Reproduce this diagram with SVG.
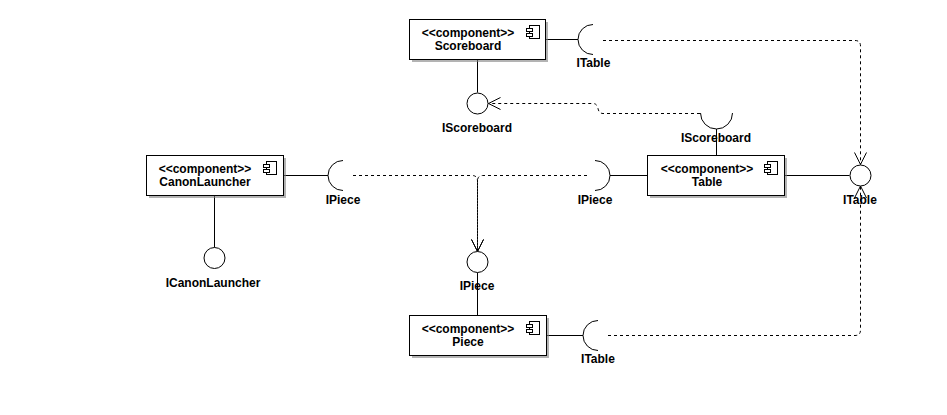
<svg xmlns="http://www.w3.org/2000/svg" width="947" height="415" viewBox="0 0 947 415">
<style>
  text { font-family: "Liberation Sans", Arial, sans-serif; font-weight: bold; font-size: 12px; fill: #000; text-anchor: middle; }
  .box { fill: #fff; stroke: #000; stroke-width: 1; }
  .shadow { fill: #808080; fill-opacity: 0.6; stroke: none; }
  .ln { fill: none; stroke: #000; stroke-width: 1; }
  .dash { fill: none; stroke: #000; stroke-width: 1; stroke-dasharray: 3 3; }
  .icon { fill: #fff; stroke: #000; stroke-width: 1; }
  .iface { fill: #fff; stroke: #000; stroke-width: 1; }
</style>
<defs>
  <marker id="open" markerUnits="userSpaceOnUse" markerWidth="14" markerHeight="14" refX="12" refY="6" orient="auto" overflow="visible">
    <path d="M0,0 L12,6 L0,12" fill="none" stroke="#000" stroke-width="1"/>
  </marker>
  <g id="cicon">
    <rect class="icon" x="3" y="0" width="10" height="13"/>
    <rect class="icon" x="0" y="3" width="6" height="3"/>
    <rect class="icon" x="0" y="8" width="6" height="3"/>
  </g>
</defs>
<rect width="947" height="415" fill="#fff"/>

<g id="connectors">
  <line class="ln" x1="545" y1="39.5" x2="578" y2="39.5"/>
  <line class="ln" x1="477.5" y1="59" x2="477.5" y2="92.5"/>
  <line class="ln" x1="716.5" y1="129" x2="716.5" y2="155"/>
  <line class="ln" x1="784" y1="175.5" x2="849.5" y2="175.5"/>
  <line class="ln" x1="283" y1="175.5" x2="328" y2="175.5"/>
  <line class="ln" x1="214.5" y1="195" x2="214.5" y2="247.5"/>
  <line class="ln" x1="610" y1="175.5" x2="647" y2="175.5"/>
  <line class="ln" x1="477.5" y1="272.5" x2="477.5" y2="315"/>
  <line class="ln" x1="546" y1="335.5" x2="583" y2="335.5"/>

  <path class="dash" d="M603,40.5 L855,40.5 Q860.5,40.5 860.5,46 L860.5,164.5" marker-end="url(#open)"/>
  <path class="dash" d="M608,335.5 L855,335.5 Q860.5,335.5 860.5,330 L860.5,186" marker-end="url(#open)"/>
  <path class="dash" d="M700,113.5 L603,113.5 Q599,113.5 598,108.5 Q597,103.5 593,103.5 L488.5,103.5" marker-end="url(#open)"/>
  <path class="dash" d="M353,175.5 L472,175.5 Q477.5,175.5 477.5,181 L477.5,251.5" marker-end="url(#open)"/>
  <path class="dash" d="M587,175.5 L483,175.5 Q477.5,175.5 477.5,181 L477.5,251.5" marker-end="url(#open)"/>
</g>

<g id="scoreboard">
  <rect class="shadow" x="412" y="22" width="136" height="40"/>
  <rect class="box" x="409.5" y="19.5" width="136" height="40"/>
  <use href="#cicon" x="526.5" y="25.5"/>
  <text x="468" y="37">&lt;&lt;component&gt;&gt;</text>
  <text x="468" y="50">Scoreboard</text>
</g>

<g id="canonlauncher">
  <rect class="shadow" x="149" y="158" width="137" height="40"/>
  <rect class="box" x="146.5" y="155.5" width="137" height="40"/>
  <use href="#cicon" x="263.5" y="161.5"/>
  <text x="205" y="173">&lt;&lt;component&gt;&gt;</text>
  <text x="205" y="186">CanonLauncher</text>
</g>

<g id="table">
  <rect class="shadow" x="650" y="158" width="137" height="40"/>
  <rect class="box" x="647.5" y="155.5" width="137" height="40"/>
  <use href="#cicon" x="764.5" y="161.5"/>
  <text x="707" y="173">&lt;&lt;component&gt;&gt;</text>
  <text x="707" y="186">Table</text>
</g>

<g id="piece">
  <rect class="shadow" x="412" y="318" width="137" height="40"/>
  <rect class="box" x="409.5" y="315.5" width="137" height="40"/>
  <use href="#cicon" x="526.5" y="321.5"/>
  <text x="468" y="333">&lt;&lt;component&gt;&gt;</text>
  <text x="468" y="346">Piece</text>
</g>

<g id="itable-req-scoreboard">
  <path class="ln" d="M593,24.5 A15,15 0 0,0 593,54.5"/>
  <text x="593.5" y="67">ITable</text>
</g>

<g id="iscoreboard-prov">
  <circle class="iface" cx="477.5" cy="103.5" r="10.5"/>
  <text x="477" y="132">IScoreboard</text>
</g>

<g id="iscoreboard-req-table">
  <path class="ln" d="M700.5,113 A16,16 0 0,0 732.5,113"/>
  <text x="716" y="142">IScoreboard</text>
</g>

<g id="itable-prov">
  <circle class="iface" cx="860.5" cy="175.5" r="10.5"/>
  <text x="860" y="204">ITable</text>
</g>

<g id="ipiece-req-canon">
  <path class="ln" d="M343,160.5 A15,15 0 0,0 343,190.5"/>
  <text x="343" y="204">IPiece</text>
</g>

<g id="ipiece-req-table">
  <path class="ln" d="M595,160.5 A15,15 0 0,1 595,190.5"/>
  <text x="595" y="204">IPiece</text>
</g>

<g id="icanonlauncher-prov">
  <circle class="iface" cx="214.5" cy="258" r="10.5"/>
  <text x="213" y="287">ICanonLauncher</text>
</g>

<g id="ipiece-prov">
  <circle class="iface" cx="477.5" cy="262" r="10.5"/>
  <text x="477" y="290">IPiece</text>
</g>

<g id="itable-req-piece">
  <path class="ln" d="M598,320.5 A15,15 0 0,0 598,350.5"/>
  <text x="598" y="363">ITable</text>
</g>
</svg>
